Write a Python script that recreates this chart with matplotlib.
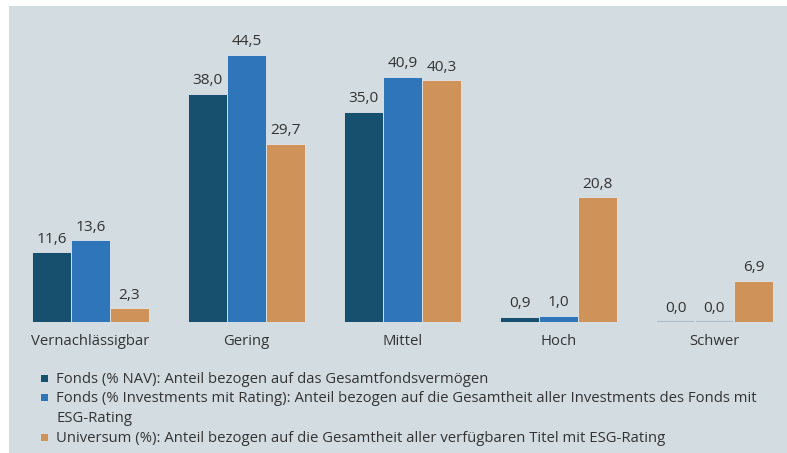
import matplotlib
matplotlib.use("Agg")
import matplotlib.pyplot as plt
from matplotlib.patches import Rectangle
from matplotlib.textpath import TextPath
from matplotlib.font_manager import FontProperties
import numpy as np

categories = ["Vernachlässigbar", "Gering", "Mittel", "Hoch", "Schwer"]
fonds_nav = [11.6, 38.0, 35.0, 0.9, 0.0]
fonds_rating = [13.6, 44.5, 40.9, 1.0, 0.0]
universum = [2.3, 29.7, 40.3, 20.8, 6.9]
series = [fonds_nav, fonds_rating, universum]
legend_labels = [
    "Fonds (% NAV): Anteil bezogen auf das Gesamtfondsvermögen",
    "Fonds (% Investments mit Rating): Anteil bezogen auf die Gesamtheit aller Investments des Fonds mit\nESG-Rating",
    "Universum (%): Anteil bezogen auf die Gesamtheit aller verfügbaren Titel mit ESG-Rating",
]
colors = ["#174f6e", "#2e75b9", "#cf9259"]
bg = "#d3dde1"
txt = "#333333"

FAMILY = ['Open Sans', 'DejaVu Sans']
plt.rcParams['font.family'] = FAMILY


def fit_size(s, target_px, dpi=100):
    w = TextPath((0, 0), s, size=10, prop=FontProperties(family=FAMILY)).get_extents().width
    return 10 * target_px / (w * dpi / 72)


tick_fs = fit_size("Vernachlässigbar", 118)
val_fs = fit_size("38,0", 29)
leg_fs = fit_size(legend_labels[0], 431)

W, H = 787, 453
fig = plt.figure(figsize=(W / 100, H / 100), dpi=100, facecolor="white")
fig.patches.append(Rectangle((9 / W, 0), 1 - 9 / W, 1 - 6 / H, transform=fig.transFigure,
                             facecolor=bg, edgecolor="none", zorder=-5))

ax_left, ax_right = 9, 787
ax_top, ax_base = 6, 322
ax = fig.add_axes([ax_left / W, (H - ax_base) / H, (ax_right - ax_left) / W, (ax_base - ax_top) / H])
ax.set_zorder(2)
ax.set_facecolor("none")
spacing = 156.0
x0 = 90.5
ax.set_xlim(-(x0 - ax_left) / spacing, 4 + (ax_right - (x0 + 4 * spacing)) / spacing)
ax.set_ylim(0, (ax_base - ax_top) / 6.0)

x = np.arange(len(categories))
bw = 0.25
for i, (vals, c) in enumerate(zip(series, colors)):
    pos = x + (i - 1) * bw
    ax.bar(pos, vals, width=bw, color=c, edgecolor="#dfe7ea", linewidth=0.6, zorder=2)
    for p, v in zip(pos, vals):
        if v == 0:
            ax.hlines(0, p - bw * 0.47, p + bw * 0.47, color="#a6bcc7", linewidth=1.5, zorder=3)
        ax.annotate(f"{v:.1f}".replace(".", ","), (p, v), xytext=(0, 4), textcoords="offset points",
                    ha="center", va="bottom", fontsize=val_fs, color=txt)

for s in ax.spines.values():
    s.set_visible(False)
ax.set_yticks([])
ax.set_xticks(x)
ax.set_xticklabels(categories, fontsize=tick_fs, color=txt)
ax.tick_params(axis="x", length=0, pad=8.5)

# legend, laid out by hand (square aligned with first text line)
leg_centers = [378, 397, 437]
for lab, c, yc in zip(legend_labels, colors, leg_centers):
    fig.patches.append(Rectangle((41 / W, 1 - (yc + 3.5) / H), 7 / W, 7 / H, transform=fig.transFigure,
                                 facecolor=c, edgecolor="none"))
    fig.text(56 / W, 1 - (yc - 6) / H, lab, ha="left", va="top", fontsize=leg_fs, color=txt,
             linespacing=1.42)

fig.savefig("out.png", dpi=100, facecolor="white")
